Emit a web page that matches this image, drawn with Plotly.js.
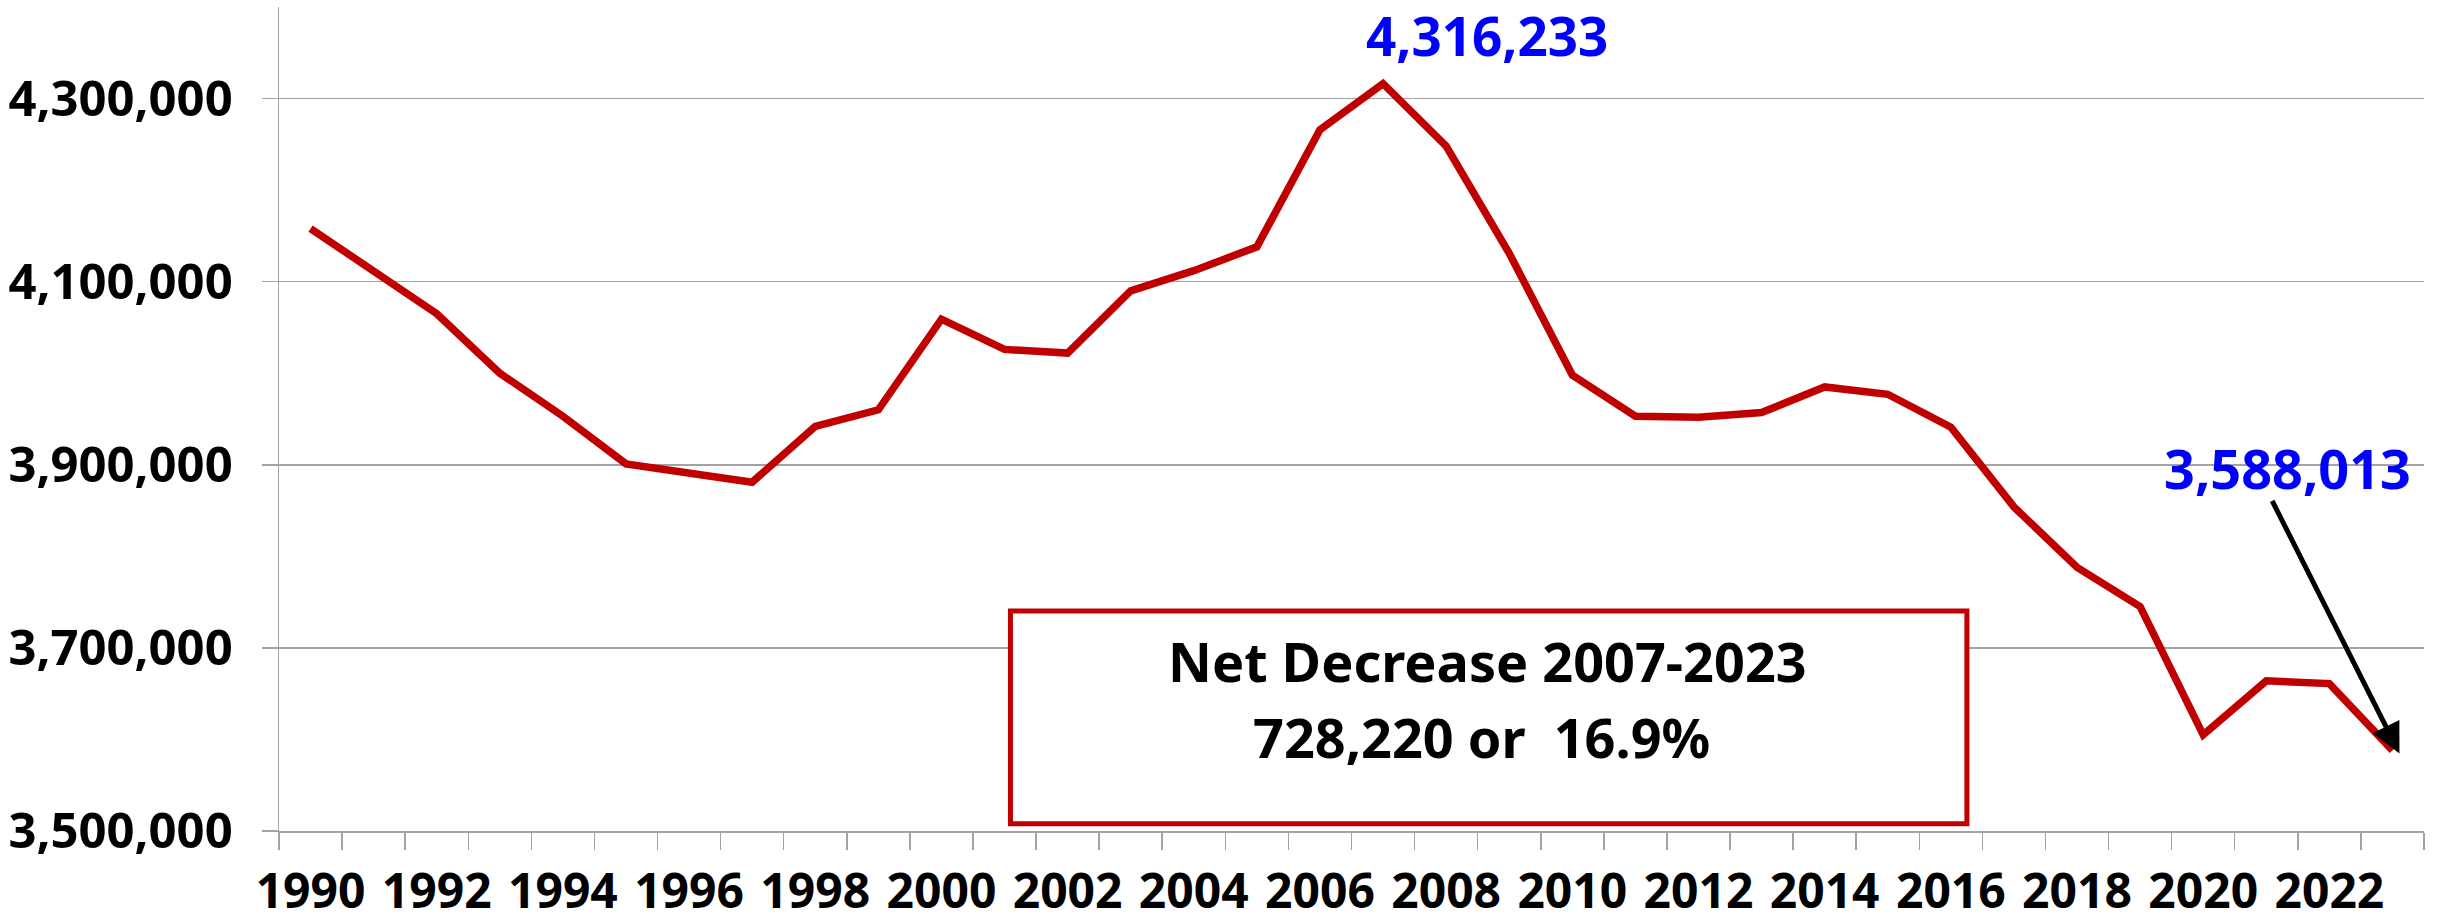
<!DOCTYPE html>
<html>
<head>
<meta charset="utf-8">
<script src="https://cdn.plot.ly/plotly-3.0.1.min.js"></script>
<style>
html, body { margin: 0; padding: 0; background: #ffffff; }
#chart { width: 2440px; height: 922px; }
</style>
</head>
<body>
<div id="chart"></div>
<script>
// ---- data ----
const years = [1990, 1991, 1992, 1993, 1994, 1995, 1996, 1997, 1998, 1999,
               2000, 2001, 2002, 2003, 2004, 2005, 2006, 2007, 2008, 2009,
               2010, 2011, 2012, 2013, 2014, 2015, 2016, 2017, 2018, 2019,
               2020, 2021, 2022, 2023];
const values = [4158000, 4111000, 4065000, 4000000, 3953000, 3901000, 3891000, 3881000, 3942000, 3960000,
                4059000, 4026000, 4022000, 4090000, 4112000, 4138000, 4266000, 4316233, 4248000, 4131000,
                3998000, 3953000, 3952000, 3957000, 3985000, 3977000, 3941000, 3854000, 3788000, 3745000,
                3605000, 3664000, 3661000, 3588013];
const xTickLabels = years.map(y => (y % 2 === 0 ? String(y) : ''));
const yTickValues = [3500000, 3700000, 3900000, 4100000, 4300000];
const peakLabel = '4,316,233';
const lastLabel = '3,588,013';
const boxLine1 = 'Net Decrease 2007-2023';
const boxLine2 = '728,220 or\u00a0 16.9%';

const FONT = 'Noto Sans, Open Sans, sans-serif';
const GRID = '#a3a3a3';
const RED = '#C00000';

const xCats = years.map(String);
const peakIdx = years.indexOf(2007);
const lastIdx = years.length - 1;

const trace = {
  type: 'scatter',
  mode: 'lines',
  x: xCats,
  y: values,
  line: { color: RED, width: 7.5 },
  hoverinfo: 'skip',
  showlegend: false
};

const layout = {
  width: 2440,
  height: 922,
  margin: { l: 279, r: 16, t: 7, b: 91 },
  paper_bgcolor: '#ffffff',
  plot_bgcolor: '#ffffff',
  showlegend: false,
  xaxis: {
    type: 'category',
    range: [-0.5, years.length - 0.5],
    autorange: false,
    tickmode: 'array',
    tickvals: xCats,
    ticktext: xTickLabels,
    tickson: 'boundaries',
    tickangle: 0,
    ticks: 'outside',
    ticklen: 17,
    tickwidth: 1.5,
    tickcolor: GRID,
    showline: true,
    linecolor: GRID,
    linewidth: 1.5,
    showgrid: false,
    zeroline: false,
    ticklabelstandoff: 18,
    tickfont: { family: FONT, size: 48, color: '#000000', weight: 'bold' }
  },
  yaxis: {
    range: [3500000, 4400000],
    autorange: false,
    tickmode: 'array',
    tickvals: yTickValues,
    tickformat: ',d',
    ticks: 'outside',
    ticklen: 16,
    tickwidth: 1.5,
    tickcolor: GRID,
    showline: true,
    linecolor: GRID,
    linewidth: 1.5,
    showgrid: true,
    gridcolor: GRID,
    gridwidth: 1.5,
    zeroline: false,
    ticklabelstandoff: 19,
    tickfont: { family: FONT, size: 49, color: '#000000', weight: 'bold' }
  },
  shapes: [
    {
      type: 'rect', xref: 'paper', yref: 'paper',
      x0: 0.341, x1: 0.7869, y0: 0.0087, y1: 0.267,
      line: { color: RED, width: 5 },
      fillcolor: '#ffffff',
      layer: 'above'
    }
  ],
  annotations: [
    {
      text: peakLabel, xref: 'x', yref: 'paper',
      x: peakIdx, y: 0.965, xshift: 104,
      xanchor: 'center', yanchor: 'middle', showarrow: false,
      font: { family: FONT, size: 53, color: '#0000FF', weight: 'bold' }
    },
    {
      text: lastLabel, xref: 'paper', yref: 'paper',
      x: 0.9364, y: 0.4405,
      xanchor: 'center', yanchor: 'middle', showarrow: false,
      font: { family: FONT, size: 54, color: '#0000FF', weight: 'bold' }
    },
    {
      text: '', xref: 'x', yref: 'y',
      x: lastIdx, y: values[lastIdx],
      xshift: 7, yshift: -3,
      showarrow: true, arrowhead: 2, arrowsize: 1.2, arrowwidth: 5,
      arrowcolor: '#000000', ax: -128, ay: -254, standoff: 0
    },
    {
      text: boxLine1, xref: 'paper', yref: 'paper',
      x: 0.5636, y: 0.2063,
      xanchor: 'center', yanchor: 'middle', showarrow: false,
      font: { family: FONT, size: 54, color: '#000000', weight: 'bold' }
    },
    {
      text: boxLine2, xref: 'paper', yref: 'paper',
      x: 0.5604, y: 0.1144,
      xanchor: 'center', yanchor: 'middle', showarrow: false,
      font: { family: FONT, size: 54, color: '#000000', weight: 'bold' }
    }
  ]
};

Plotly.newPlot('chart', [trace], layout, { staticPlot: true, displayModeBar: false });
</script>
</body>
</html>
